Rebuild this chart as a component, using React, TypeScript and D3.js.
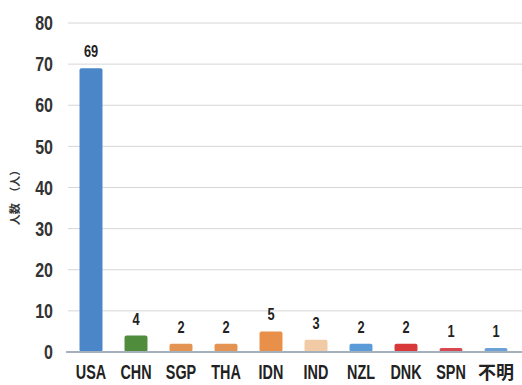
import React from "react";
import * as d3 from "d3";

const categories = ["USA", "CHN", "SGP", "THA", "IDN", "IND", "NZL", "DNK", "SPN", "不明"];
const values = [69, 4, 2, 2, 5, 3, 2, 2, 1, 1];
const colors = ["#4a86c8", "#4f8c3c", "#e39452", "#e39452", "#e8904a", "#f1caa6", "#5b9bd8", "#d9383a", "#d84850", "#6aa2d8"];
const yTicks = [0, 10, 20, 30, 40, 50, 60, 70, 80];

const font = "'Liberation Sans', Arial, sans-serif";

function NText(props: { x: number; y: number; anchor: string; size: number; children: any; family?: string; sx?: number; dy?: string; fill?: string }) {
  const sx = props.sx ?? 0.8;
  return (
    <text transform={`translate(${props.x},${props.y}) scale(${sx},1)`} dy={props.dy} textAnchor={props.anchor}
      fontFamily={props.family ?? font} fontWeight="bold" fontSize={props.size} fill={props.fill ?? "#222"}>{props.children}</text>
  );
}

export default function App() {
  const W = 522, H = 385;
  const x = d3.scaleBand<string>().domain(categories).range([68.5, 518.5]).paddingInner(0.49).paddingOuter(0.245);
  const y = d3.scaleLinear().domain([0, 80]).range([352, 23]);
  return (
    <svg width={W} height={H} style={{ position: "absolute", left: 0, top: 0, background: "#fff" }}>
      {yTicks.filter(t => t > 0).map(t => (
        <line key={"g" + t} x1={68} x2={522} y1={y(t)} y2={y(t)} stroke="#d6d6d6" strokeWidth={1} />
      ))}
      {yTicks.map(t => (
        <NText key={"t" + t} x={53} y={y(t)} dy="0.36em" anchor="end" size={20} sx={0.8} fill="#333">{t}</NText>
      ))}
      {categories.map((c, i) => (
        <rect key={"b" + c} x={x(c)} y={y(values[i])} width={x.bandwidth()} height={y(0) - y(values[i])} fill={colors[i]} rx={2} />
      ))}
      <line x1={66} x2={522} y1={y(0)} y2={y(0)} stroke="#a4b0bc" strokeWidth={2} />
      {categories.map((c, i) => (
        <NText key={"v" + c} x={(x(c) as number) + x.bandwidth() / 2} y={y(values[i]) - 11} anchor="middle" size={16}>{values[i]}</NText>
      ))}
      {categories.map(c => (
        <NText key={"l" + c} x={(x(c) as number) + x.bandwidth() / 2} y={379} anchor="middle"
          family={c === "不明" ? "'Noto Sans CJK JP', sans-serif" : font} sx={c === "不明" ? 1 : 0.72} size={c === "不明" ? 18 : 20}>{c}</NText>
      ))}
      <text transform="translate(19,195) rotate(-90)" textAnchor="middle" fontFamily="'Noto Sans CJK JP', sans-serif" fontWeight="bold" fontSize={11} fill="#333">人数　（人）</text>
    </svg>
  );
}
